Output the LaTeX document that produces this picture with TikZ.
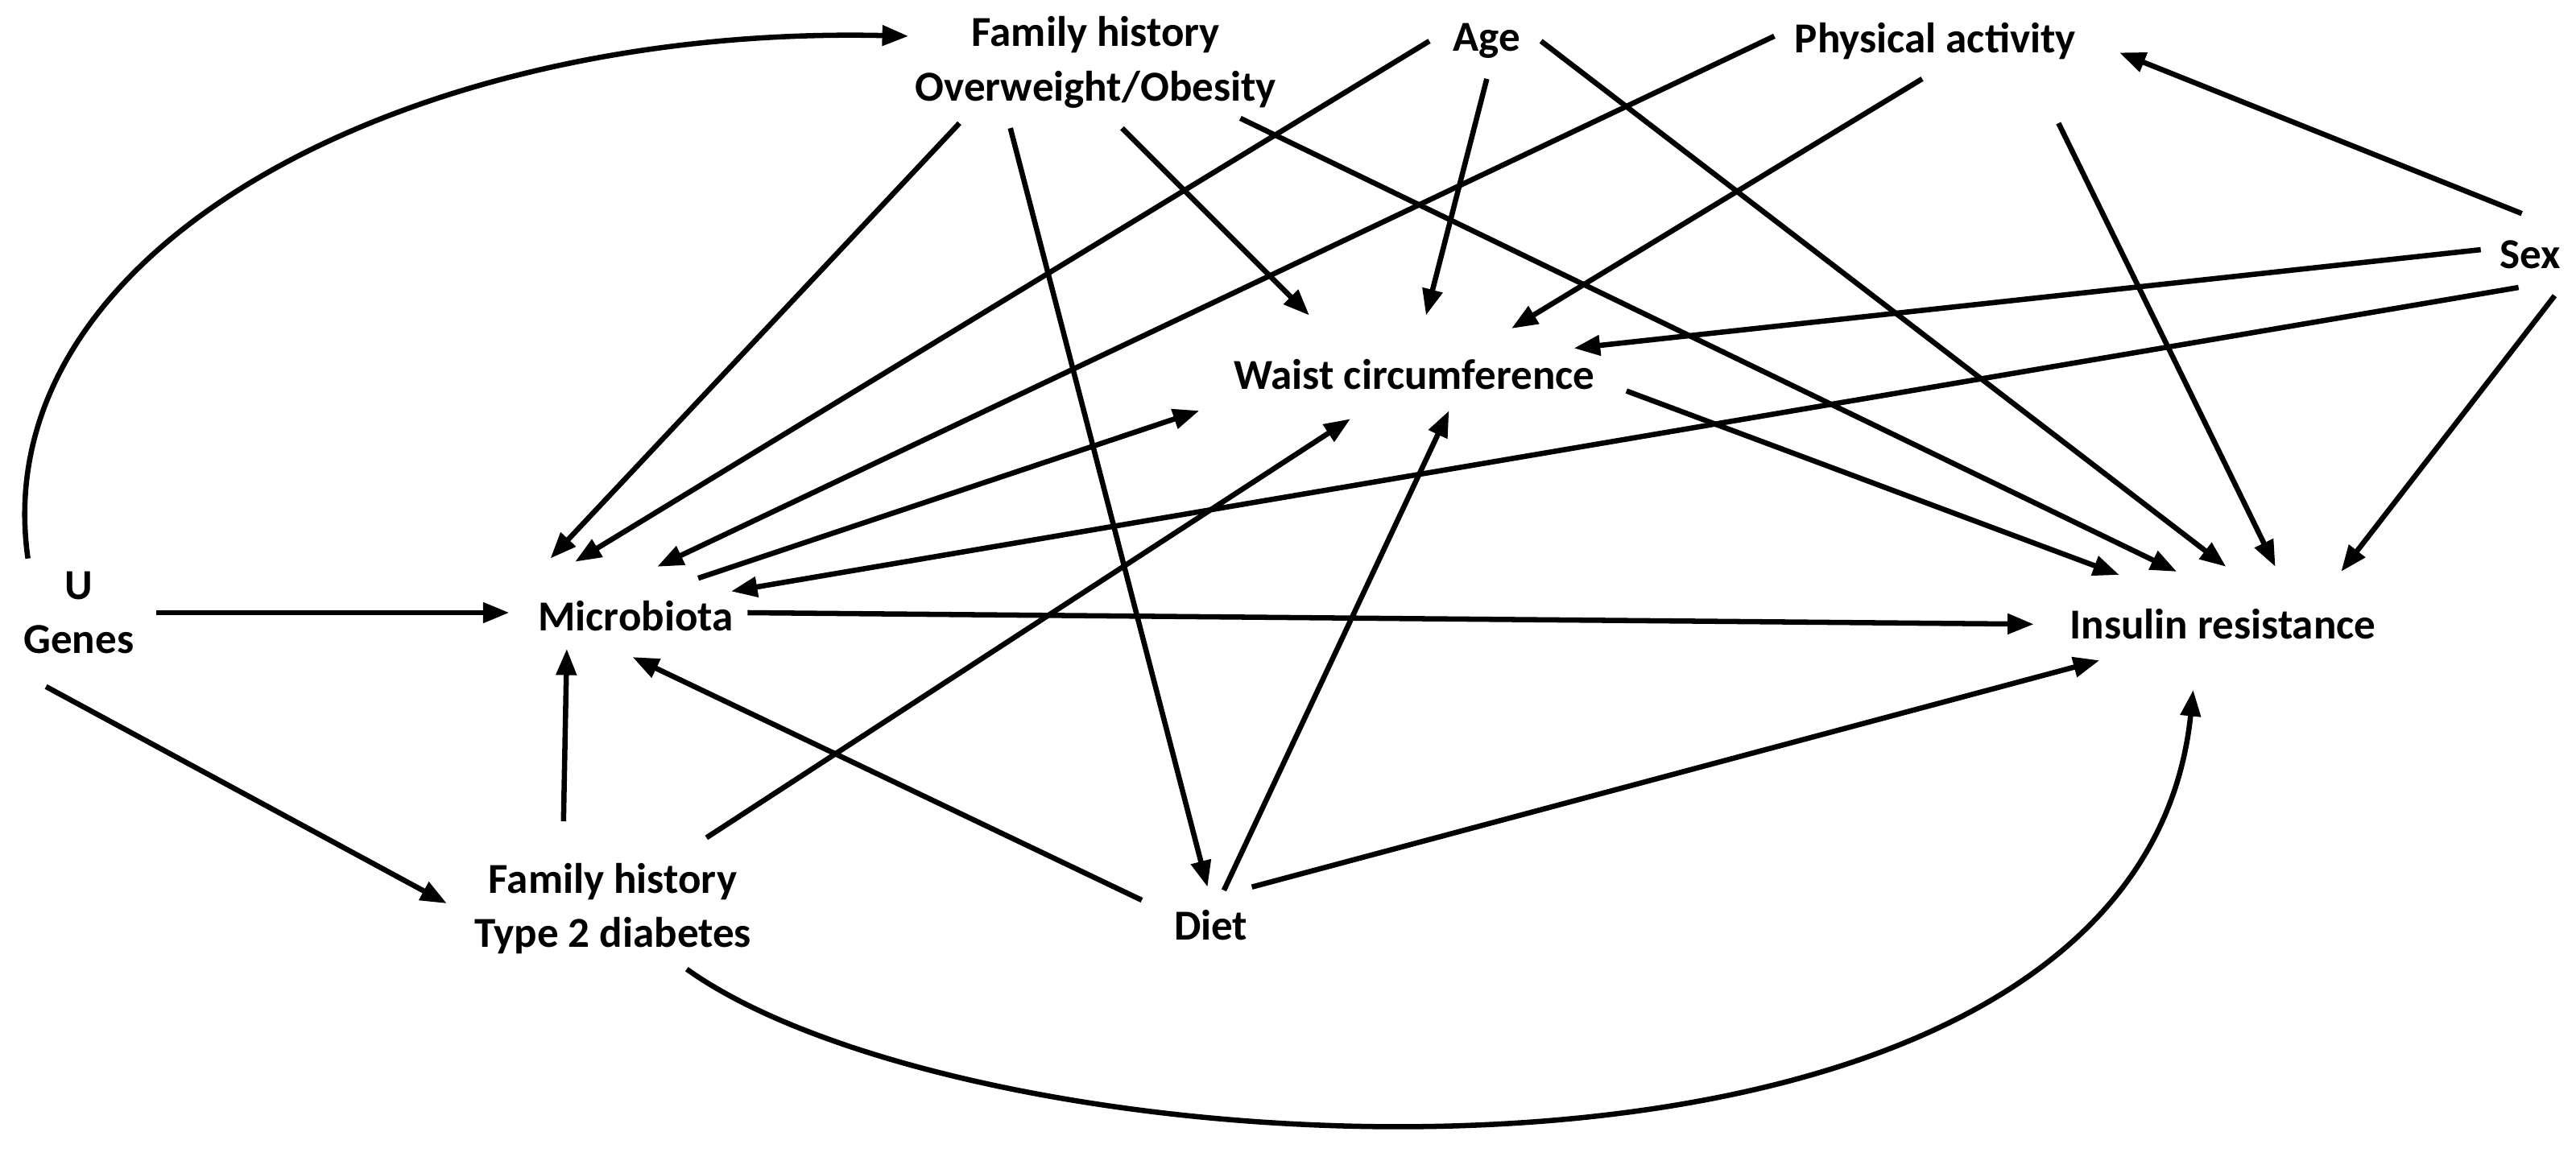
\documentclass[tikz,border=0pt]{standalone}
\usepackage{fontspec}
\setmainfont{Carlito}
\usetikzlibrary{arrows.meta}
\newcommand\pp[3]{([shift={(#2,#3)}]#1.center)}
\begin{document}
\begin{tikzpicture}[x=1pt,y=-1pt,
  v/.style={font=\bfseries\fontsize{26}{33}\selectfont,align=center,inner sep=4pt},
  e/.style={line width=3.2pt,-{Triangle[length=16pt,width=12pt]}}]
\useasboundingbox (0,0) rectangle (1568,709);
\node[v] (U) at (48,373) {U\\Genes};
\node[v] (M) at (387,375) {Microbiota};
\node[v] (FO) at (667,38) {Family history\\Overweight/Obesity};
\node[v] (A) at (905,25) {Age};
\node[v] (PA) at (1178,25) {Physical activity};
\node[v] (S) at (1540,155) {Sex};
\node[v] (W) at (861,228) {Waist circumference};
\node[v] (I) at (1353,380) {Insulin resistance};
\node[v] (FT) at (373,553) {Family history\\Type 2 diabetes};
\node[v] (D) at (737,563) {Diet};
\draw[e] \pp{U}{-31}{-33} .. controls (-10,150) and (250,15) .. \pp{FO}{-114}{-16};
\draw[e] \pp{U}{47}{0} -- \pp{M}{-77}{-2};
\draw[e] \pp{U}{-20}{45} -- \pp{FT}{-101}{-3};
\draw[e] \pp{FO}{-83}{37} -- \pp{M}{-52}{-35};
\draw[e] \pp{FO}{-52}{40} -- \pp{D}{-2}{-23};
\draw[e] \pp{FO}{16}{40} -- \pp{W}{-64}{-36};
\draw[e] \pp{FO}{88}{34} -- \pp{I}{-28}{-32};
\draw[e] \pp{A}{-35}{0} -- \pp{M}{-37}{-33};
\draw[e] \pp{A}{0}{23} -- \pp{W}{7}{-36};
\draw[e] \pp{A}{33}{0} -- \pp{I}{2}{-35};
\draw[e] \pp{PA}{-98}{-3} -- \pp{M}{13}{-30};
\draw[e] \pp{PA}{-8}{23} -- \pp{W}{59}{-28};
\draw[e] \pp{PA}{75}{50} -- \pp{I}{32}{-35};
\draw[e] \pp{S}{-5}{-25} -- \pp{PA}{112}{7};
\draw[e] \pp{S}{-30}{-3} -- \pp{W}{97}{-16};
\draw[e] \pp{S}{-7}{20} -- \pp{M}{58}{-15};
\draw[e] \pp{S}{15}{25} -- \pp{I}{72}{-32};
\draw[e] \pp{M}{38}{-23} -- \pp{W}{-131}{22};
\draw[e] \pp{W}{129}{10} -- \pp{I}{-63}{-30};
\draw[e] \pp{M}{68}{-2} -- \pp{I}{-115}{0};
\draw[e] \pp{FT}{-30}{-53} -- \pp{M}{-42}{20};
\draw[e] \pp{FT}{57}{-43} -- \pp{W}{-39}{27};
\draw[e] \pp{D}{-42}{-15} -- \pp{M}{-2}{25};
\draw[e] \pp{D}{8}{-21} -- \pp{W}{21}{22};
\draw[e] \pp{D}{25}{-23} -- \pp{I}{-75}{22};
\draw[e] \pp{FT}{45}{37} .. controls (600,720) and (1300,760) .. \pp{I}{-18}{40};
\end{tikzpicture}
\end{document}
